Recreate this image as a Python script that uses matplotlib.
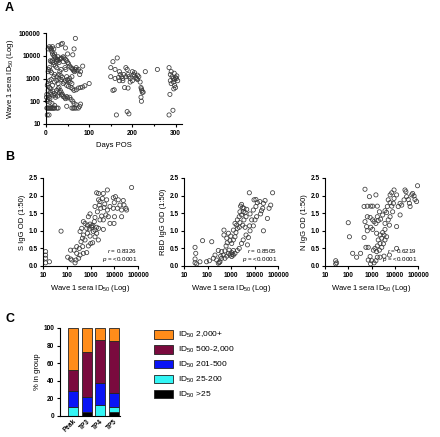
import numpy as np
import matplotlib
matplotlib.use("Agg")
import matplotlib.pyplot as plt
from matplotlib.patches import Patch
from matplotlib.ticker import FixedLocator, NullLocator

plt.rcParams['font.family'] = ['Liberation Sans', 'DejaVu Sans']
plt.rcParams['mathtext.fontset'] = 'custom'
plt.rcParams['mathtext.rm'] = 'Liberation Sans'
plt.rcParams['mathtext.it'] = 'Liberation Sans:italic'

# ---- Panel A: days post onset vs wave 1 sera ID50 ----
days_pos = [2, 4, 6, 8, 10, 12, 14, 16, 18, 20, 25, 28, 60, 63, 66, 70, 75, 48, 3, 7,
            5, 8, 10, 12, 14, 15, 18, 20, 22, 25, 28, 30, 10, 12, 15, 8, 6, 5, 10, 13,
            20, 25, 30, 35, 20, 15, 8, 5, 10, 12, 18, 22, 7, 4, 3, 9, 14, 20, 25, 28,
            30, 33, 35, 38, 40, 43, 45, 48, 50, 55, 58, 62, 65, 70, 78, 80, 35, 28, 38, 45,
            62, 65, 68, 50, 40, 42, 45, 48, 50, 52, 55, 58, 60, 62, 64, 66, 68, 70, 72, 75,
            80, 85, 78, 60, 55, 50, 45, 42, 40, 48, 52, 58, 62, 65, 70, 75, 80, 85, 90, 100,
            30, 32, 35, 25, 22, 18, 16, 24, 26, 32, 34, 36, 28, 20, 18, 15, 12, 40, 44, 46,
            48, 52, 56, 60, 38, 35, 25, 28, 18, 12, 8, 5, 3, 2, 1, 6, 9, 11, 16, 19,
            23, 27, 31, 36,
            150, 155, 160, 165, 170, 172, 175, 178, 180, 185, 188, 190, 192, 195, 200, 203,
            205, 208, 210, 212, 215, 218, 220, 221, 222, 223, 220, 221, 225, 230, 258, 155,
            158, 160, 168, 178, 182, 190, 195, 200, 205, 212, 163, 188, 192, 150, 170, 185,
            285, 290, 288, 292, 295, 298, 300, 302, 305, 295, 290, 298, 300, 296, 287, 294,
            285, 288, 303, 297]
id50_a = [50, 50, 50, 50, 50, 50, 50, 50, 50, 50, 50, 50, 50, 50, 50, 50, 50, 60, 25, 25,
          20000, 25000, 22000, 18000, 15000, 12000, 10000, 9000, 8000, 7000, 6000, 5000, 6000, 5500, 6000, 3000, 2500, 2000, 2200, 1800,
          1500, 1200, 1000, 900, 700, 500, 400, 300, 250, 200, 180, 150, 150, 120, 100, 90, 80, 65, 300, 350,
          400, 300, 250, 200, 160, 150, 130, 160, 140, 150, 120, 100, 80, 70, 60, 75, 32000, 28000, 35000, 22000,
          11000, 20000, 58000, 12000, 9000, 8000, 7000, 6000, 5000, 4500, 3500, 3000, 2800, 2500, 2200, 2000, 2500, 3000, 2200, 2500,
          2000, 3500, 1500, 1200, 1000, 900, 800, 700, 600, 500, 450, 400, 350, 300, 320, 380, 400, 420, 480, 600,
          1500, 2000, 2500, 3000, 3500, 4000, 5000, 5500, 6500, 7000, 7500, 8000, 9000, 12000, 20000, 25000, 21000, 5500, 3000, 2500,
          1200, 800, 700, 600, 1100, 1300, 800, 600, 1200, 900, 800, 600, 500, 200, 150, 180, 130, 350, 280, 220,
          190, 170, 240, 190,
          3000, 5500, 2500, 8000, 2000, 1500, 1200, 1000, 1500, 3000, 2500, 1500, 1200, 1000, 2000, 1500,
          1300, 1100, 1000, 900, 1200, 700, 400, 350, 300, 250, 150, 100, 250, 2000, 2500, 300,
          320, 1000, 1100, 800, 400, 380, 700, 800, 1800, 1400, 25, 35, 28, 1200, 800, 1200,
          3000, 2000, 1500, 1200, 1000, 900, 1100, 1000, 800, 700, 600, 500, 400, 350, 200, 40,
          25, 800, 1300, 1700]

# ---- Panel B: log10 ID50 vs IgG OD (1:50) ----
s_log_id50 = [1.11, 1.11, 1.11, 1.11, 1.27, 1.76, 2.04, 2.16, 2.35, 3.26, 3.34, 3.71, 3.54, 3.96,
              4.05, 4.38, 4.73, 3.68, 3.40, 3.60, 3.43, 3.57, 3.82, 3.71, 3.96, 4.13, 4.31, 4.49,
              4.41, 4.52, 4.31, 4.01, 3.82, 3.99, 3.54, 3.34, 3.54, 3.19, 2.98, 2.91, 2.70, 2.77,
              2.87, 2.98, 3.05, 3.16, 3.26, 3.19, 2.84, 2.63, 2.56, 2.70, 2.87, 2.98, 3.12, 3.26,
              2.66, 2.60, 2.77, 3.09, 3.01, 2.91, 2.67, 2.53, 2.42, 2.31, 2.16, 2.42, 2.56, 2.70,
              2.84, 2.50, 2.21, 2.39, 3.33, 3.19, 3.40, 3.47, 3.29, 3.19, 3.37, 3.65, 3.75, 4.17,
              4.24, 4.00, 3.50, 3.34, 3.05, 3.10, 2.95]
s_od = [0.41, 0.31, 0.22, 0.09, 0.12, 0.99, 0.25, 0.20, 0.09, 2.08, 2.06, 2.16, 2.06, 1.94,
        1.97, 1.86, 2.23, 1.88, 1.83, 1.76, 1.64, 1.66, 1.69, 1.59, 1.64, 1.64, 1.59, 1.64,
        1.73, 1.59, 1.40, 1.40, 1.21, 1.21, 1.31, 1.07, 1.04, 1.38, 1.48, 1.40, 1.26, 1.21,
        1.16, 1.19, 1.14, 1.26, 1.10, 1.02, 1.07, 1.07, 0.98, 0.88, 0.93, 0.85, 0.98, 0.93,
        0.79, 0.69, 0.74, 0.66, 0.64, 0.57, 0.55, 0.50, 0.55, 0.45, 0.45, 0.36, 0.31, 0.36,
        0.38, 0.22, 0.17, 0.17, 0.74, 0.83, 1.31, 1.42, 1.54, 1.69, 1.73, 1.45, 1.40, 1.88,
        1.73, 1.80, 1.92, 1.88, 1.10, 1.15, 1.05]

rbd_log_id50 = [1.47, 1.50, 1.47, 1.47, 1.54, 1.68, 1.79, 2.18, 1.96, 2.08, 2.25, 2.32, 2.39, 2.46,
                2.53, 2.60, 2.56, 2.67, 2.74, 2.82, 2.89, 2.96, 3.03, 3.10, 2.92, 2.74, 2.60, 2.46,
                2.79, 2.84, 2.96, 3.03, 3.10, 3.17, 2.82, 2.70, 2.70, 2.89, 2.99, 3.10, 3.21, 3.27,
                3.35, 3.17, 3.24, 3.38, 3.27, 3.35, 3.45, 3.38, 3.41, 3.45, 3.50, 3.55, 3.52, 3.60,
                3.67, 3.64, 3.55, 3.50, 3.60, 3.64, 3.74, 3.81, 3.79, 3.88, 3.81, 3.95, 4.06, 4.12,
                3.98, 3.78, 4.06, 4.23, 4.38, 4.45, 4.35, 4.30, 4.26, 4.38, 4.55, 4.62, 4.69, 4.77,
                4.09, 4.02, 3.95, 3.70, 3.52, 3.45, 3.35, 3.27, 3.17, 3.10, 3.03, 3.05, 2.50]
rbd_od = [0.53, 0.36, 0.20, 0.09, 0.06, 0.12, 0.72, 0.69, 0.12, 0.15, 0.22, 0.31, 0.17, 0.08,
          0.12, 0.22, 0.28, 0.31, 0.22, 0.28, 0.36, 0.31, 0.38, 0.44, 0.45, 0.43, 0.41, 0.44,
          0.57, 0.66, 0.72, 0.64, 0.74, 0.83, 0.79, 0.88, 1.02, 0.93, 0.85, 1.02, 0.95, 1.07,
          1.10, 1.21, 1.16, 1.23, 1.31, 1.40, 1.45, 1.54, 1.70, 1.75, 1.66, 1.64, 1.54, 1.52,
          1.61, 1.40, 1.31, 1.16, 1.10, 0.88, 0.81, 1.00, 1.14, 1.31, 1.48, 1.59, 1.69, 1.80,
          1.88, 2.08, 1.89, 1.83, 1.78, 1.86, 1.64, 1.57, 1.48, 1.00, 1.35, 1.64, 1.73, 2.08,
          1.40, 1.31, 1.14, 0.60, 0.74, 0.64, 0.50, 0.44, 0.36, 0.31, 0.27, 0.33, 0.10]

n_log_id50 = [1.46, 1.46, 1.50, 2.00, 2.05, 2.19, 2.36, 2.53, 2.72, 2.82, 2.91, 2.82, 2.68, 2.97,
              3.19, 3.05, 3.25, 3.34, 3.25, 3.05, 2.94, 3.11, 3.19, 3.29, 3.39, 3.48, 3.58, 3.65,
              3.68, 3.72, 3.80, 3.87, 3.97, 4.08, 3.97, 3.80, 3.87, 3.91, 3.80, 3.72, 3.58, 3.77,
              3.58, 3.48, 3.37, 3.44, 3.29, 3.37, 3.25, 3.15, 3.08, 3.22, 3.34, 3.44, 3.51, 3.58,
              3.65, 3.54, 3.22, 3.05, 2.97, 2.82, 2.79, 2.72, 2.76, 2.86, 2.68, 2.86, 3.01, 2.96,
              3.11, 3.19, 3.25, 3.37, 2.94, 3.54, 3.77, 4.08, 4.08, 4.23, 4.15, 4.30, 4.40, 4.44,
              4.48, 4.51, 4.58, 4.63, 4.73, 4.77, 4.83, 4.87, 4.94, 4.66, 4.23, 3.94, 4.98]
n_od = [0.15, 0.06, 0.09, 1.23, 0.83, 0.36, 0.25, 0.36, 2.18, 1.40, 1.97, 1.70, 1.69, 1.70,
        2.02, 1.70, 1.70, 1.54, 1.40, 1.31, 1.38, 1.26, 1.21, 1.29, 1.33, 1.45, 1.57, 1.52,
        1.69, 1.88, 2.02, 2.08, 2.16, 2.02, 1.92, 1.80, 1.70, 1.54, 1.40, 1.31, 1.21, 1.16,
        1.04, 0.95, 0.88, 0.79, 0.74, 0.64, 0.57, 0.50, 0.45, 0.41, 0.45, 0.53, 0.63, 0.74,
        0.83, 0.88, 0.93, 1.04, 1.10, 1.00, 1.12, 1.26, 0.53, 0.53, 0.81, 0.17, 0.15, 0.06,
        0.09, 0.15, 0.25, 0.25, 0.27, 0.28, 0.31, 0.50, 1.12, 1.45, 1.69, 1.73, 1.88, 2.16,
        2.11, 1.97, 1.89, 1.78, 2.02, 2.06, 1.99, 1.89, 1.83, 1.69, 1.78, 1.78, 2.28]

b_ylabels = ["S IgG OD (1:50)", "RBD IgG OD (1:50)", "N IgG OD (1:50)"]
b_r = ["0.8326", "0.8505", "0.6219"]

# ---- Panel C: distribution of ID50 per timepoint ----
timepoints = ["Peak", "TP3", "TP4", "TP5"]
pct_lt25 = [0, 5, 0, 5]
pct_25_200 = [10, 0, 13, 5]
pct_201_500 = [18, 17, 25, 16]
pct_500_2000 = [24, 51, 48, 59]
pct_2000_plus = [48, 27, 14, 15]
c_labels = ["ID$_{50}$ 2,000+", "ID$_{50}$ 500-2,000", "ID$_{50}$ 201-500",
            "ID$_{50}$ 25-200", "ID$_{50}$ >25"]
c_colors = ["#FF8C1A", "#7A0A3E", "#0A14F5", "#33F5F5", "#000000"]

W, H = 440, 437
fig = plt.figure(figsize=(W / 100, H / 100), dpi=100)


def px_axes(left, top, right, bottom):
    return fig.add_axes([left / W, 1 - bottom / H, (right - left) / W, (bottom - top) / H])


def prism_style(ax):
    for s in ['top', 'right']:
        ax.spines[s].set_visible(False)
    for s in ['left', 'bottom']:
        ax.spines[s].set_linewidth(0.8)
    ax.tick_params(direction='out', length=2.5, width=0.8, labelsize=4.7, pad=1.5)
    ax.tick_params(which='minor', direction='out', length=1.5, width=0.8)
    for lab in ax.get_xticklabels() + ax.get_yticklabels():
        lab.set_fontweight('bold')


scat = dict(s=9, facecolors='none', edgecolors='#3a3a3a', linewidths=0.55, clip_on=False)

# Panel A
axA = px_axes(46, 33, 182, 124)
axA.scatter(days_pos, id50_a, **scat)
axA.set_yscale('log')
axA.set_ylim(10, 100000)
axA.set_xlim(0, 315)
axA.yaxis.set_major_locator(FixedLocator([10, 100, 1000, 10000, 100000]))
axA.yaxis.set_minor_locator(NullLocator())
axA.set_yticklabels(["10", "100", "1000", "10000", "100000"])
axA.xaxis.set_major_locator(FixedLocator([0, 100, 200, 300]))
axA.xaxis.set_minor_locator(FixedLocator([50, 150, 250]))
axA.set_xlabel("Days POS", fontsize=5.5, labelpad=4)
axA.set_ylabel("Wave 1 sera ID$_{50}$ (Log)", fontsize=5.5, labelpad=2)
prism_style(axA)

# Panel B
b_lefts = [(43, 138), (184, 278), (325, 418)]
b_data = [(s_log_id50, s_od), (rbd_log_id50, rbd_od), (n_log_id50, n_od)]
for (l, r), (lx, od), ylab, rv in zip(b_lefts, b_data, b_ylabels, b_r):
    ax = px_axes(l, 178, r, 266)
    ax.scatter(10 ** np.array(lx), od, **scat)
    ax.set_xscale('log')
    ax.set_xlim(10, 100000)
    ax.set_ylim(0, 2.5)
    ax.xaxis.set_major_locator(FixedLocator([10, 100, 1000, 10000, 100000]))
    ax.xaxis.set_minor_locator(NullLocator())
    ax.set_xticklabels(["10", "100", "1000", "10000", "100000"])
    ax.set_yticks([0, 0.5, 1.0, 1.5, 2.0, 2.5])
    ax.set_yticklabels(["0.0", "0.5", "1.0", "1.5", "2.0", "2.5"])
    ax.set_xlabel("Wave 1 sera ID$_{50}$ (Log)", fontsize=5.5, labelpad=3)
    ax.set_ylabel(ylab, fontsize=5.5, labelpad=2)
    ax.text(0.99, 0.13, "$r$ = " + rv, transform=ax.transAxes, ha='right', va='bottom', fontsize=4.5)
    ax.text(0.99, 0.02, "$p$ = <0.0001", transform=ax.transAxes, ha='right', va='bottom', fontsize=4.5)
    prism_style(ax)

# Panel C
axC = px_axes(60, 328, 120, 416)
x = np.arange(len(timepoints))
bottom = np.zeros(len(timepoints))
stack = [pct_lt25, pct_25_200, pct_201_500, pct_500_2000, pct_2000_plus]
for vals, col in zip(stack, c_colors[::-1]):
    axC.bar(x, vals, bottom=bottom, width=0.73, color=col, edgecolor='#222222', linewidth=0.6)
    bottom += np.array(vals)
axC.set_xlim(-0.95, 3.45)
axC.set_ylim(0, 100)
axC.set_yticks([0, 20, 40, 60, 80, 100])
axC.set_xticks(x)
axC.set_xticklabels(timepoints, rotation=45, ha='right', rotation_mode='anchor')
axC.set_ylabel("% in group", fontsize=5.5, labelpad=2)
prism_style(axC)
axC.tick_params(axis='x', length=0)

handles = [Patch(facecolor=c, edgecolor='#222222', linewidth=0.6) for c in c_colors]
fig.legend(handles, c_labels, loc='upper left', bbox_to_anchor=(150 / W, 1 - 326 / H),
           frameon=False, fontsize=6, handlelength=2.2, handleheight=1.2,
           labelspacing=0.55, handletextpad=0.6, borderpad=0)

# panel letters
fig.text(5 / W, 1 - 11 / H, "A", fontsize=9, fontweight='bold')
fig.text(5 / W, 1 - 160 / H, "B", fontsize=9, fontweight='bold')
fig.text(5 / W, 1 - 322 / H, "C", fontsize=9, fontweight='bold')

fig.savefig("out.png", dpi=100)
